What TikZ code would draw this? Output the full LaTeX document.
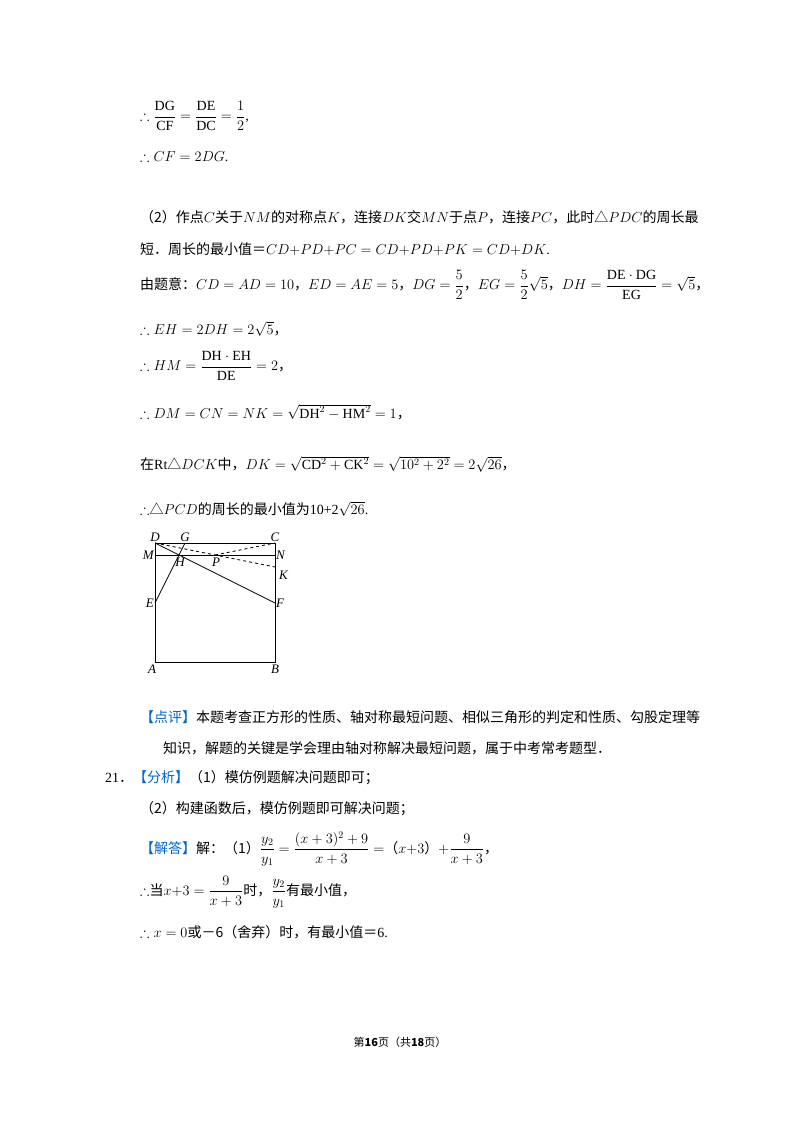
\documentclass[tikz,border=0pt]{standalone}
\usepackage{amsmath,amssymb}
\usepackage{fontspec}
\setmainfont{Liberation Serif}
\newfontfamily\cjk{Noto Sans CJK SC}
\newcommand\zh[1]{{\cjk #1}}
\usetikzlibrary{calc,intersections}
\definecolor{tagblue}{RGB}{0,102,204}
\begin{document}
\begin{tikzpicture}[x=1pt,y=-1pt,
  txt/.style={anchor=west,inner sep=0pt,font=\fontsize{14}{16}\selectfont},
  lbl/.style={inner sep=1pt,font=\fontsize{13}{14}\selectfont\itshape},
  edge/.style={line width=1pt},
  thin/.style={line width=0.8pt}]
\useasboundingbox[fill=white] (0,0) rectangle (800,1132);
\node[txt] (l1) at (140,116) {$\therefore\dfrac{\mathrm{DG}}{\mathrm{CF}}=\dfrac{\mathrm{DE}}{\mathrm{DC}}=\dfrac{1}{2}$,};
\node[txt] (l2) at (140,157) {$\therefore CF=2DG$.};
\node[txt] (l3) at (140,217) {\zh{（2）作点}$C$\zh{关于}$NM$\zh{的对称点}$K$\zh{，连接}$DK$\zh{交}$MN$\zh{于点}$P$\zh{，连接}$PC$\zh{，此时△}$PDC$\zh{的周长最}};
\node[txt] (l4) at (140,249) {\zh{短．周长的最小值＝}$CD{+}PD{+}PC=CD{+}PD{+}PK=CD{+}DK$.};
\node[txt] (l5) at (140,285) {\zh{由题意：}$CD=AD=10$\zh{，}$ED=AE=5$\zh{，}$DG=\dfrac{5}{2}$\zh{，}$EG=\dfrac{5}{2}\sqrt{5}$\zh{，}$DH=\dfrac{\mathrm{DE}\cdot\mathrm{DG}}{\mathrm{EG}}=\sqrt{5}$\zh{，}};
\node[txt] (l6) at (140,329) {$\therefore EH=2DH=2\sqrt{5}$\zh{，}};
\node[txt] (l7) at (140,366) {$\therefore HM=\dfrac{\mathrm{DH}\cdot\mathrm{EH}}{\mathrm{DE}}=2$\zh{，}};
\node[txt] (l8) at (140,412) {$\therefore DM=CN=NK=\sqrt{\mathrm{DH}^2-\mathrm{HM}^2}=1$\zh{，}};
\node[txt] (l9) at (140,464) {\zh{在}Rt\zh{△}$DCK$\zh{中，}$DK=\sqrt{\mathrm{CD}^2+\mathrm{CK}^2}=\sqrt{10^2+2^2}=2\sqrt{26}$\zh{，}};
\node[txt] (l10) at (140,509) {$\therefore$\zh{△}$PCD$\zh{的周长的最小值为}10+2$\sqrt{26}$.};
% figure
\coordinate (D) at (155,543); \coordinate (C) at (275,543);
\coordinate (A) at (155,662); \coordinate (B) at (275,662);
\coordinate (M) at (155,555); \coordinate (N) at (275,555);
\coordinate (K) at (275,567); \coordinate (E) at (155,603);
\coordinate (F) at (275,603); \coordinate (G) at (185,543);
\path[name path=eg] (E)--(G); \path[name path=df] (D)--(F);
\path[name intersections={of=eg and df,by=H}];
\path[name path=dk] (D)--(K); \path[name path=mn] (M)--(N);
\path[name intersections={of=dk and mn,by=P}];
\draw[edge] (A)--(B)--(C)--(D)--cycle;
\draw[thin] (M)--(N);
\draw[thin] (E)--(G);
\draw[thin] (D)--(F);
\draw[thin,dashed] (D)--(K);
\draw[thin,dashed] (P)--(C);
\node[lbl,above] at (D) {D};
\node[lbl,above] at (G) {G};
\node[lbl,above] at (C) {C};
\node[lbl,left] at (M) {M};
\node[lbl,right] at (N) {N};
\node[lbl,right] at ($(K)+(3,8)$) {K};
\node[lbl,left] at (E) {E};
\node[lbl,right] at (F) {F};
\node[lbl,below] at ($(H)+(1,2)$) {H};
\node[lbl,below] at ($(P)+(1,2)$) {P};
\node[lbl,below] at ($(A)+(-3,2)$) {A};
\node[lbl,below] at ($(B)+(0,2)$) {B};
% comments
\node[txt] (l11) at (140,717) {\zh{\textcolor{tagblue}{【点评】}本题考查正方形的性质、轴对称最短问题、相似三角形的判定和性质、勾股定理等}};
\node[txt] (l12) at (163,748) {\zh{知识，解题的关键是学会理由轴对称解决最短问题，属于中考常考题型．}};
\node[txt] (l13) at (105,778) {21\zh{．\textcolor{tagblue}{【分析】}（1）模仿例题解决问题即可；}};
\node[txt] (l14) at (140,809) {\zh{（2）构建函数后，模仿例题即可解决问题；}};
\node[txt] (l15) at (140,849) {\zh{\textcolor{tagblue}{【解答】}解：（1）}$\dfrac{y_2}{y_1}=\dfrac{(x+3)^2+9}{x+3}=$\zh{（}$x{+}3$\zh{）}$+\dfrac{9}{x+3}$\zh{，}};
\node[txt] (l16) at (140,892) {$\therefore$\zh{当}$x{+}3=\dfrac{9}{x+3}$\zh{时，}$\dfrac{y_2}{y_1}$\zh{有最小值，}};
\node[txt] (l17) at (140,932) {$\therefore x=0$\zh{或－6（舍弃）时，有最小值＝}6.};
\node[font=\fontsize{11}{12}\selectfont] (ft) at (400,1042) {\zh{第\textbf{16}页（共\textbf{18}页）}};
\end{tikzpicture}
\end{document}
